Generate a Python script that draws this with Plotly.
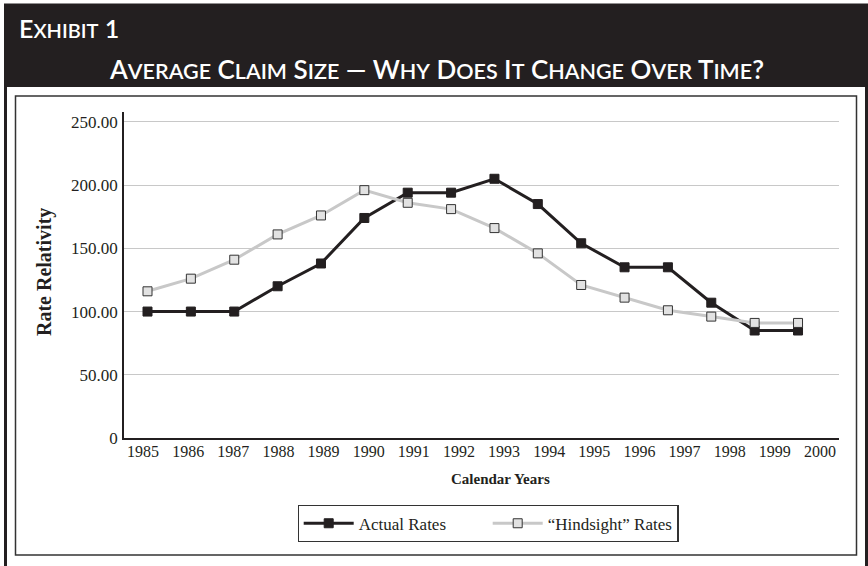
import plotly.graph_objects as go

# ---- data ----
years = [1985, 1986, 1987, 1988, 1989, 1990, 1991, 1992, 1993, 1994, 1995, 1996, 1997, 1998, 1999, 2000]
actual_rates = [100, 100, 100, 120, 138, 174, 194, 194, 205, 185, 154, 135, 135, 107, 85, 85]
hindsight_rates = [116, 126, 141, 161, 176, 196, 186, 181, 166, 146, 121, 111, 101, 96, 91, 91]
year_labels = [str(y) for y in years]
y_ticks = [0, 50, 100, 150, 200, 250]
y_tick_labels = ["0", "50.00", "100.00", "150.00", "200.00", "250.00"]

DARK = "#231f20"
GRAY = "#c8c8c8"
SERIF = "Liberation Serif, Times New Roman, serif"

W, H = 868, 566
L, R, T, B = 124, 839, 112, 438


def px(x):
    return (x - L) / (R - L)


def py(y):
    return (B - y) / (B - T)


def small_caps(text, small_size):
    out = []
    buf = ""
    for ch in text:
        if ch.islower():
            buf += ch.upper()
        else:
            if buf:
                out.append('<span style="font-size:%spx">%s</span>' % (small_size, buf))
                buf = ""
            out.append(ch)
    if buf:
        out.append('<span style="font-size:%spx">%s</span>' % (small_size, buf))
    return "".join(out)


fig = go.Figure()
fig.add_trace(go.Scatter(
    x=years, y=actual_rates, name="Actual Rates", mode="lines+markers",
    line=dict(color=DARK, width=3),
    marker=dict(symbol="square", size=9, color=DARK, line=dict(color=DARK, width=1)),
))
fig.add_trace(go.Scatter(
    x=years, y=hindsight_rates, name="\u201cHindsight\u201d Rates", mode="lines+markers",
    line=dict(color=GRAY, width=3),
    marker=dict(symbol="square", size=9, color="#e2e2e2", line=dict(color="#333333", width=1)),
))
# invisible trace to carry the tick-label axis
fig.add_trace(go.Scatter(
    x=years, y=[None] * len(years), xaxis="x2", showlegend=False, hoverinfo="skip", mode="lines",
))

fig.update_layout(
    width=W, height=H,
    margin=dict(l=L, r=W - R, t=T, b=H - B),
    paper_bgcolor="white", plot_bgcolor="white",
    font=dict(family=SERIF, color=DARK),
    xaxis=dict(
        range=[1984.458, 2000.945], showticklabels=False, ticks="", showgrid=False,
        zeroline=False, showline=True, linecolor=DARK, linewidth=1.5,
    ),
    xaxis2=dict(
        overlaying="x", anchor="y", side="bottom",
        range=[1984.579, 2000.421], tickmode="array", tickvals=years, ticktext=year_labels,
        ticks="", showgrid=False, zeroline=False, showline=False,
        tickfont=dict(family=SERIF, size=16, color=DARK), ticklabelstandoff=2,
    ),
    yaxis=dict(
        range=[0, 257.8], tickmode="array", tickvals=y_ticks, ticktext=y_tick_labels,
        ticks="", showgrid=True, gridcolor=GRAY, gridwidth=1.3, zeroline=False,
        showline=True, linecolor=DARK, linewidth=1.5,
        tickfont=dict(family=SERIF, size=17, color=DARK), ticklabelstandoff=1,
    ),
    legend=dict(
        orientation="h", x=px(488), y=py(523.5), xanchor="center", yanchor="middle",
        bordercolor="#333333", borderwidth=1.2, bgcolor="white",
        font=dict(family=SERIF, size=17, color=DARK), itemwidth=50,
        entrywidth=124, entrywidthmode="pixels",
    ),
    showlegend=True,
)

shapes = [
    # header band
    dict(type="rect", xref="paper", yref="paper", x0=px(4), x1=px(868), y0=py(87), y1=py(5),
         fillcolor=DARK, line=dict(width=0), layer="below"),
    # outer frame
    dict(type="rect", xref="paper", yref="paper", x0=px(5.5), x1=px(866.5), y0=py(600), y1=py(5),
         fillcolor="rgba(0,0,0,0)", line=dict(color=DARK, width=3), layer="above"),
    # inner box
    dict(type="rect", xref="paper", yref="paper", x0=px(15.5), x1=px(856.5), y0=py(555), y1=py(96),
         fillcolor="rgba(0,0,0,0)", line=dict(color="#333333", width=1.5), layer="below"),
]
fig.update_layout(shapes=shapes)

annotations = [
    dict(text=small_caps("Exhibit 1", 20), xref="paper", yref="paper", x=px(17), y=py(28),
         xanchor="left", yanchor="middle", showarrow=False,
         font=dict(family="Lato, sans-serif", size=25, color="white", weight=600)),
    dict(text=small_caps("Average Claim Size \u2014 Why Does It Change Over Time?", 21.5), xref="paper", yref="paper",
         x=px(107), y=py(69), xanchor="left", yanchor="middle", showarrow=False,
         font=dict(family="Lato, sans-serif", size=26, color="white", weight=600)),
    dict(text="<b>Rate Relativity</b>", xref="paper", yref="paper", x=px(44), y=py(272), textangle=-90,
         xanchor="center", yanchor="middle", showarrow=False, font=dict(family=SERIF, size=20, color=DARK)),
    dict(text="<b>Calendar Years</b>", xref="paper", yref="paper", x=px(501), y=py(479),
         xanchor="center", yanchor="middle", showarrow=False, font=dict(family=SERIF, size=15, color=DARK)),
]
fig.update_layout(annotations=annotations)

fig.write_html("out.html", config={"displayModeBar": False},
               post_script="document.body.style.margin='0px';")
